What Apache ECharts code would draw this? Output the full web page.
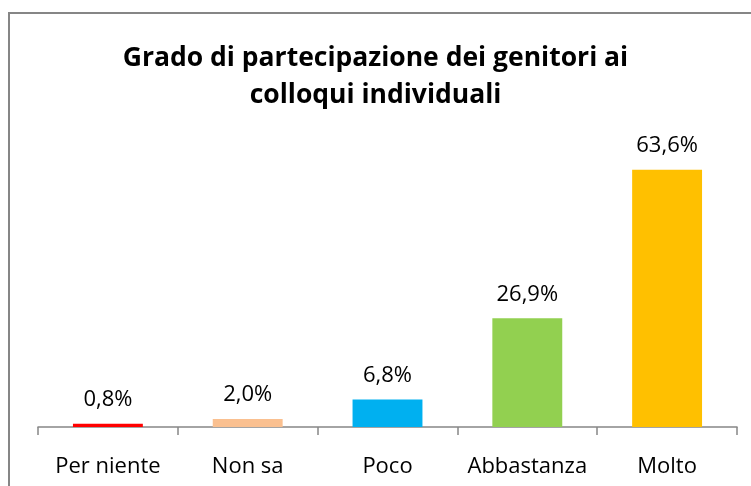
<!DOCTYPE html>
<html>
<head>
<meta charset="utf-8">
<script src="https://cdn.jsdelivr.net/npm/echarts@6/dist/echarts.min.js"></script>
<style>
html,body{margin:0;padding:0;background:#fff;}
#main{width:751px;height:486px;}
</style>
</head>
<body>
<div id="main"></div>
<script>
// dati del grafico
var categorie = ['Per niente', 'Non sa', 'Poco', 'Abbastanza', 'Molto'];
var valori = [0.8, 2.0, 6.8, 26.9, 63.6];
var colori = ['#FF0000', '#FAC090', '#00B0F0', '#92D050', '#FFC000'];

var myChart = echarts.init(document.getElementById('main'));

var dati = valori.map(function (v, i) {
    return { value: v, itemStyle: { color: colori[i] } };
});

var option = {
    backgroundColor: '#fff',
    animation: false,
    title: {
        text: 'Grado di partecipazione dei genitori ai\ncolloqui individuali',
        left: 'center',
        top: 35,
        textStyle: {
            fontFamily: 'Open Sans',
            fontWeight: 'bold',
            fontSize: 26.5,
            lineHeight: 37,
            color: '#000'
        }
    },
    graphic: [{
        type: 'rect',
        shape: { x: 9, y: 13, width: 800, height: 600 },
        style: { fill: 'none', stroke: '#868686', lineWidth: 2 },
        silent: true
    }],
    grid: { left: 38, right: 14, top: 144, bottom: 59 },
    xAxis: {
        type: 'category',
        data: categorie,
        boundaryGap: true,
        axisLine: { lineStyle: { color: '#868686', width: 1.5 } },
        axisTick: { show: true, length: 8, alignWithLabel: false, lineStyle: { color: '#868686', width: 1.5 } },
        axisLabel: {
            margin: 29,
            fontFamily: 'Open Sans',
            fontSize: 22,
            color: '#000',
            interval: 0
        }
    },
    yAxis: {
        type: 'value',
        min: 0,
        max: 70,
        show: false,
        splitLine: { show: false }
    },
    series: [{
        type: 'bar',
        data: dati,
        barWidth: '50%',
        label: {
            show: true,
            position: 'top',
            distance: 13,
            fontFamily: 'Open Sans',
            fontSize: 22,
            color: '#000',
            formatter: function (p) {
                return p.value.toFixed(1).replace('.', ',') + '%';
            }
        }
    }]
};

myChart.setOption(option);
</script>
</body>
</html>
